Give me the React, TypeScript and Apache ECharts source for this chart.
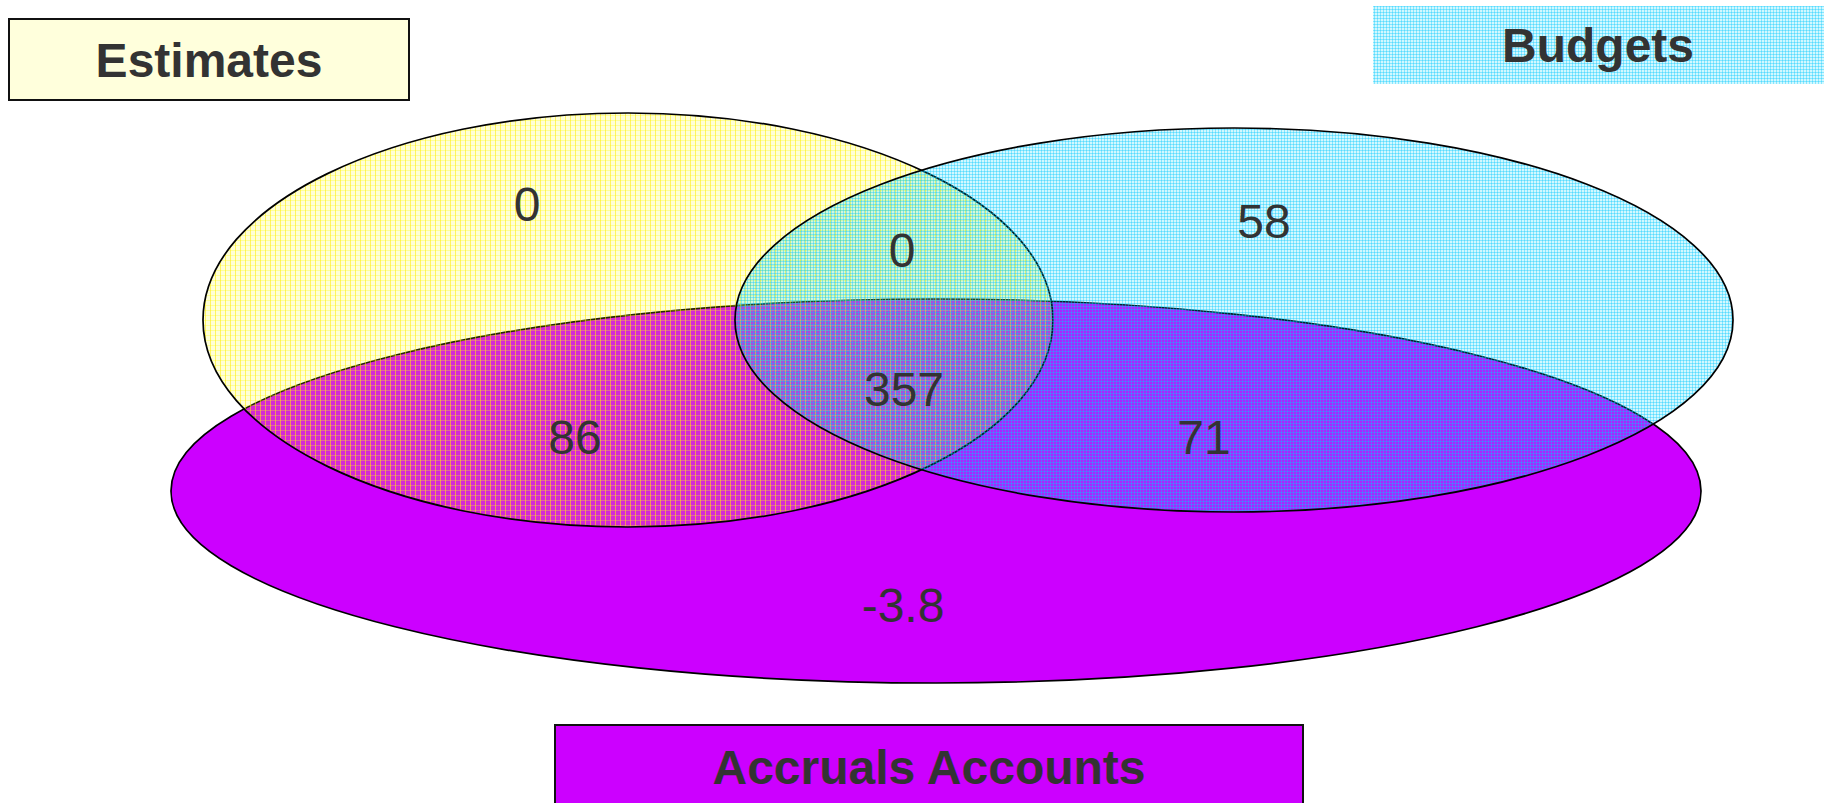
import React, { useEffect, useRef } from "react";
import * as echarts from "echarts";

// ---- data ----
const setNames = ["Estimates", "Budgets", "Accruals Accounts"];
const regionNames = [
  "Estimates only",
  "Estimates & Budgets",
  "Budgets only",
  "All three",
  "Estimates & Accruals",
  "Budgets & Accruals",
  "Accruals only",
];
const regionValues = [0, 0, 58, 357, 86, 71, -3.8];

// ---- layout (data space = 1824 x 803 frame) ----
// drawing order: Accruals, Estimates, Budgets
const ellipseSet = [2, 0, 1];
const ellipseCx = [936, 628, 1234];
const ellipseCy = [491, 320, 320];
const ellipseRx = [765, 425, 499];
const ellipseRy = [192, 207, 192];
const regionX = [527, 902, 1264, 904, 575, 1204, 903];
const regionY = [204, 250, 221, 389, 437, 437, 605];

const FONT = "'Liberation Sans', Arial, Helvetica, sans-serif";

function makePattern(
  size: number,
  bg: string,
  vLine: string,
  hLine: string
) {
  const c = document.createElement("canvas");
  c.width = size;
  c.height = size;
  const ctx = c.getContext("2d")!;
  ctx.clearRect(0, 0, size, size);
  ctx.fillStyle = bg;
  ctx.fillRect(0, 0, size, size);
  ctx.fillStyle = hLine;
  ctx.fillRect(0, 0, size, 1);
  ctx.fillStyle = vLine;
  ctx.fillRect(0, 0, 1, size);
  return {
    image: c.toDataURL(),
    imageWidth: size,
    imageHeight: size,
    repeat: "repeat",
  };
}

export default function App() {
  const ref = useRef<HTMLDivElement>(null);

  useEffect(() => {
    document.body.style.margin = "0";
    if (!ref.current) return;
    const chart = echarts.init(ref.current, null, { renderer: "svg" });

    const yellowPat = makePattern(
      5,
      "rgba(255,255,0,0.16)",
      "rgba(255,235,0,0.55)",
      "rgba(255,255,0,0.3)"
    );
    const cyanPat = makePattern(
      3,
      "rgba(0,215,255,0.18)",
      "rgba(0,200,255,0.36)",
      "rgba(0,200,255,0.36)"
    );
    const fills: any[] = [yellowPat, cyanPat, "#cc00ff"];

    const ellipseData = ellipseSet.map((s, i) => [
      ellipseCx[i],
      ellipseCy[i],
      ellipseRx[i],
      ellipseRy[i],
      s,
    ]);
    const labelData = regionValues.map((v, i) => ({
      name: regionNames[i],
      value: [regionX[i], regionY[i], v],
    }));

    const titleStyle = (text: string) => ({
      text,
      fontSize: 48,
      fontWeight: "bold",
      fontFamily: FONT,
      fill: "#333333",
      align: "center",
      verticalAlign: "middle",
      textAlign: "center",
      textVerticalAlign: "middle",
    });

    const option: any = {
      animation: false,
      backgroundColor: "#ffffff",
      grid: { left: 0, right: 0, top: 0, bottom: 0, containLabel: false },
      xAxis: { type: "value", min: 0, max: 1824, show: false },
      yAxis: { type: "value", min: 0, max: 803, inverse: true, show: false },
      tooltip: { show: false },
      series: [
        {
          type: "custom",
          name: "sets",
          clip: false,
          data: ellipseData,
          renderItem: (params: any, api: any) => {
            const c = api.coord([api.value(0), api.value(1)]);
            const s = api.size([api.value(2), api.value(3)]);
            const setIdx = api.value(4);
            return {
              type: "ellipse",
              shape: { cx: c[0], cy: c[1], rx: s[0], ry: s[1] },
              style: {
                fill: fills[setIdx],
                stroke: "#000000",
                lineWidth: 1.7,
              },
            };
          },
        },
        {
          type: "custom",
          name: "values",
          clip: false,
          z: 5,
          data: labelData,
          renderItem: (params: any, api: any) => {
            const c = api.coord([api.value(0), api.value(1)]);
            return {
              type: "text",
              x: c[0],
              y: c[1],
              style: {
                text: String(api.value(2)),
                fontSize: 48,
                fontFamily: FONT,
                fill: "#333333",
                align: "center",
                verticalAlign: "middle",
              },
            };
          },
        },
      ],
      graphic: [
        {
          type: "rect",
          shape: { x: 9, y: 19, width: 400, height: 81 },
          style: { fill: "#ffffdc", stroke: "#111111", lineWidth: 2 },
          z: 10,
        },
        { type: "text", x: 209, y: 60, style: titleStyle(setNames[0]), z: 11 },
        {
          type: "rect",
          shape: { x: 1373, y: 6, width: 451, height: 78 },
          style: { fill: "#ffffff" },
          z: 10,
        },
        {
          type: "rect",
          shape: { x: 1373, y: 6, width: 451, height: 78 },
          style: { fill: cyanPat as any },
          z: 10,
        },
        { type: "text", x: 1598, y: 45, style: titleStyle(setNames[1]), z: 11 },
        {
          type: "rect",
          shape: { x: 555, y: 725, width: 748, height: 100 },
          style: { fill: "#cc00ff", stroke: "#111111", lineWidth: 2 },
          z: 10,
        },
        { type: "text", x: 929, y: 767, style: titleStyle(setNames[2]), z: 11 },
      ],
    };

    chart.setOption(option);
    return () => {
      chart.dispose();
    };
  }, []);

  return (
    <div
      ref={ref}
      style={{
        position: "fixed",
        left: 0,
        top: 0,
        width: 1824,
        height: 803,
      }}
    />
  );
}
